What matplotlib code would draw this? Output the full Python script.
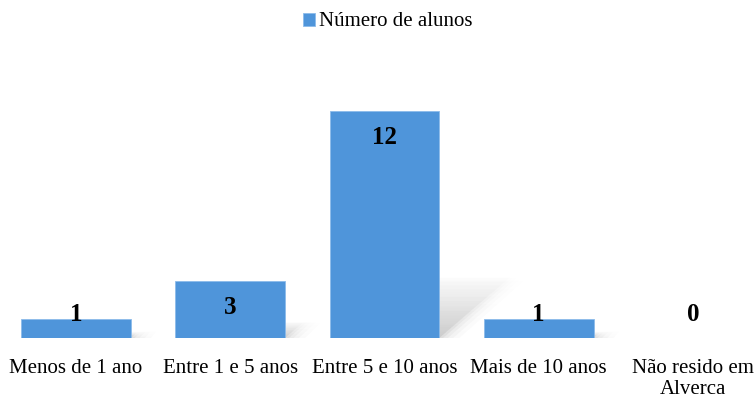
import numpy as np
import matplotlib
matplotlib.use("Agg")
import matplotlib.pyplot as plt
from matplotlib.patches import Polygon

# 数据
categorias = ["Menos de 1 ano", "Entre 1 e 5 anos", "Entre 5 e 10 anos",
              "Mais de 10 anos", "Não resido em\nAlverca"]
alunos = [1, 3, 12, 1, 0]
serie = "Número de alunos"

plt.rcParams['font.family'] = ['Liberation Serif', 'DejaVu Serif']

cor = '#4F95DA'
largura = 0.71

fig = plt.figure(figsize=(7.56, 4.03), dpi=100)
ax = fig.add_axes([0, 65 / 403, 1, 264.6 / 403])

x = np.arange(len(categorias))


# sombra em perspectiva atrás de cada barra (gradiente + camadas para desfocar)
def sombra(ax, xc, h):
    if h <= 0:
        return
    x0, x1 = xc - largura / 2, xc + largura / 2
    topo = 0.28 * h
    desvio = 0.04 * h
    camadas = [(0.0, 0.16), (0.025, 0.10), (0.055, 0.07), (0.09, 0.05), (0.13, 0.035)]
    for e, a0 in camadas:
        yt = topo + e * 0.8
        verts = [(x0, 0), (x1 + e, 0), (x1 + desvio + e, yt), (x0 + desvio, yt)]
        poly = Polygon(verts, closed=True, facecolor='none', edgecolor='none')
        ax.add_patch(poly)
        grad = np.zeros((100, 1, 4))
        grad[..., :3] = 0.45
        grad[:, 0, 3] = a0 * np.linspace(1, 0, 100) ** 1.1
        im = ax.imshow(grad, extent=[x0, x1 + desvio + e, 0, yt], origin='lower',
                       aspect='auto', interpolation='bilinear', zorder=1)
        im.set_clip_path(poly)


for xi, v in zip(x, alunos):
    sombra(ax, xi, v)

barras = ax.bar(x, alunos, width=largura, color=cor, edgecolor='#8CBBEA',
                linewidth=0.6, zorder=2, label=serie)

# rótulos de valor
for xi, v in zip(x, alunos):
    ax.text(xi, max(v - 1.38, 1.22), str(v), ha='center', va='center',
            fontsize=18, fontweight='bold', color='black', zorder=3)

ax.set_xlim((0 - 76) / 154.25, (756 - 76) / 154.25)
ax.set_ylim(0, 14)
ax.set_xticks(x)
ax.set_xticklabels(categorias, fontsize=15, linespacing=1.15)
ax.tick_params(axis='x', length=0, pad=15)
ax.set_yticks([])
for s in ax.spines.values():
    s.set_visible(False)
ax.patch.set_alpha(0)

fig.legend(handles=[barras], labels=[serie], loc='center',
           bbox_to_anchor=(0.513, 1 - 22 / 403), frameon=False, fontsize=15,
           handlelength=0.6, handleheight=0.6, handletextpad=0.2)

fig.savefig("out.png", dpi=100)
